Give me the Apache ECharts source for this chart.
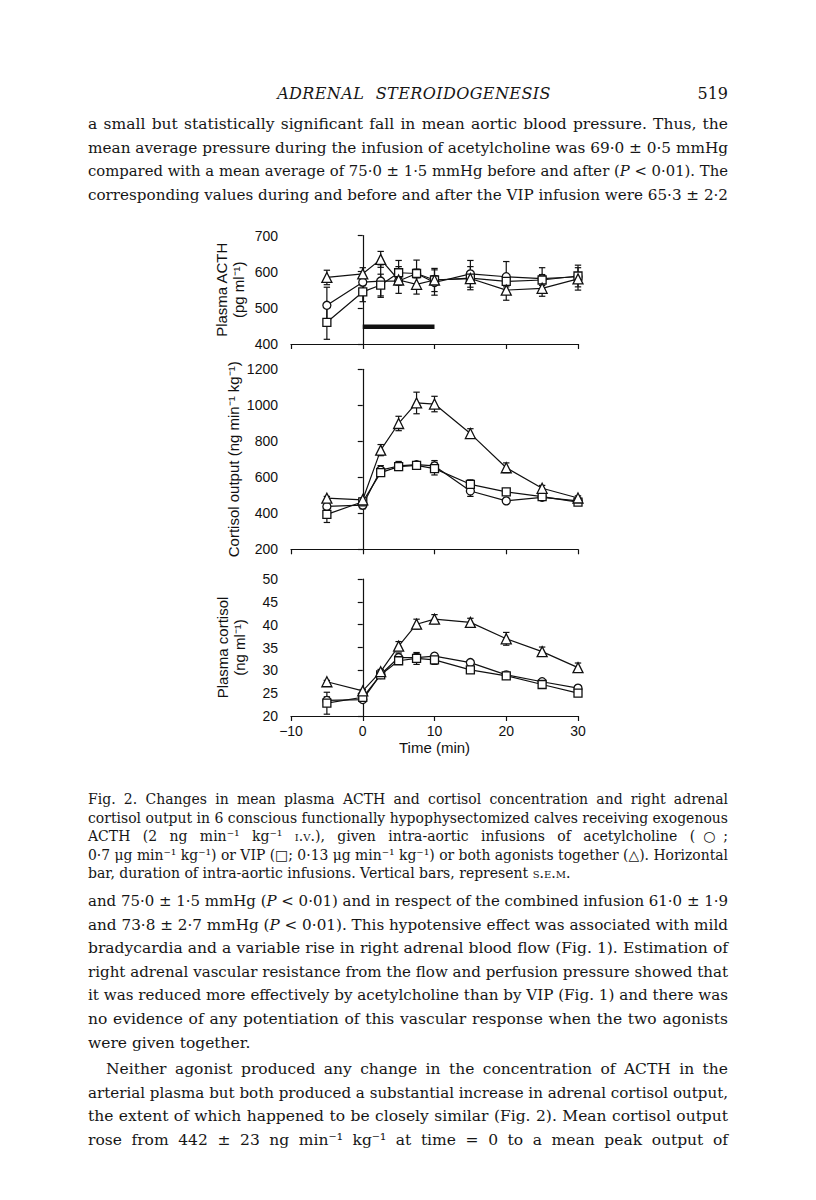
<!DOCTYPE html>
<html><head><meta charset="utf-8">
<script src="https://cdn.jsdelivr.net/npm/echarts@6.0.0/dist/echarts.min.js"></script>
<style>
html,body{margin:0;padding:0;background:#fff;}
#page{position:relative;width:816px;height:1200px;overflow:hidden;background:#fff;}
#chart{position:absolute;left:0;top:0;width:816px;height:1200px;}
.txt{position:absolute;font-family:"DejaVu Serif","Liberation Serif",serif;color:#161616;}
.blk{left:88px;width:640px;}
.ln{white-space:nowrap;text-align:justify;text-align-last:justify;}
.ln.last{text-align:left;text-align-last:left;}
.sc{font-variant:small-caps;}
.body{font-size:15.5px;line-height:23.6px;}
.cap{font-size:14px;line-height:18.5px;}
</style></head>
<body>
<div id="page">
<div id="chart"></div>
<div class="txt" style="left:88px;width:640px;top:84px;font-size:16px;">
  <div style="position:absolute;left:0;width:652px;text-align:center;font-style:italic;letter-spacing:0.4px;word-spacing:6px;">ADRENAL STEROIDOGENESIS</div>
  <div style="position:absolute;right:0;">519</div>
</div>
<div class="txt blk body" style="top:113px;">
  <div class="ln">a small but statistically significant fall in mean aortic blood pressure. Thus, the</div>
  <div class="ln">mean average pressure during the infusion of acetylcholine was 69·0 ± 0·5 mmHg</div>
  <div class="ln">compared with a mean average of 75·0 ± 1·5 mmHg before and after (<i>P</i> &lt; 0·01). The</div>
  <div class="ln">corresponding values during and before and after the VIP infusion were 65·3 ± 2·2</div>
</div>
<div class="txt blk cap" style="top:790px;">
  <div class="ln">Fig. 2. Changes in mean plasma ACTH and cortisol concentration and right adrenal</div>
  <div class="ln">cortisol output in 6 conscious functionally hypophysectomized calves receiving exogenous</div>
  <div class="ln">ACTH (2 ng min⁻¹ kg⁻¹ <span class="sc">i.v.</span>), given intra-aortic infusions of acetylcholine (○;</div>
  <div class="ln">0·7 μg min⁻¹ kg⁻¹) or VIP (□; 0·13 μg min⁻¹ kg⁻¹) or both agonists together (△). Horizontal</div>
  <div class="ln last">bar, duration of intra-aortic infusions. Vertical bars, represent <span class="sc">s.e.m.</span></div>
</div>
<div class="txt blk body" style="top:890px;">
  <div class="ln">and 75·0 ± 1·5 mmHg (<i>P</i> &lt; 0·01) and in respect of the combined infusion 61·0 ± 1·9</div>
  <div class="ln">and 73·8 ± 2·7 mmHg (<i>P</i> &lt; 0·01). This hypotensive effect was associated with mild</div>
  <div class="ln">bradycardia and a variable rise in right adrenal blood flow (Fig. 1). Estimation of</div>
  <div class="ln">right adrenal vascular resistance from the flow and perfusion pressure showed that</div>
  <div class="ln">it was reduced more effectively by acetylcholine than by VIP (Fig. 1) and there was</div>
  <div class="ln">no evidence of any potentiation of this vascular response when the two agonists</div>
  <div class="ln last">were given together.</div>
</div>
<div class="txt blk body" style="top:1058px;">
  <div class="ln" style="padding-left:18px;">Neither agonist produced any change in the concentration of ACTH in the</div>
  <div class="ln">arterial plasma but both produced a substantial increase in adrenal cortisol output,</div>
  <div class="ln">the extent of which happened to be closely similar (Fig. 2). Mean cortisol output</div>
  <div class="ln">rose from 442 ± 23 ng min⁻¹ kg⁻¹ at time = 0 to a mean peak output of</div>
</div>
</div>
<script>
// ---- data ----
const time = [-5, 0, 2.5, 5, 7.5, 10, 15, 20, 25, 30];
const xTicks = [-10, 0, 10, 20, 30];
const infusionPeriod = [0, 10];
const infusionBarLevel = 448;

// Plasma ACTH (pg/ml)
const acthACh  = [507, 571, 574, 574, 595, 570, 594, 586, 581, 586];
const acthAChErr  = [50, 10, 45, 10, 12, 35, 37, 42, 30, 10];
const acthVIP  = [460, 544, 563, 597, 595, 577, 582, 573, 577, 588];
const acthVIPErr  = [47, 27, 30, 34, 37, 32, 32, 15, 15, 30];
const acthBoth = [584, 594, 634, 577, 565, 577, 581, 549, 554, 580];
const acthBothErr = [20, 17, 22, 37, 27, 12, 12, 28, 22, 31];

// Cortisol output (ng/min/kg)
const coACh  = [438, 445, 640, 663, 670, 663, 524, 469, 489, 469];
const coAChErr  = [8, 20, 25, 25, 15, 30, 30, 15, 10, 15];
const coVIP  = [394, 464, 626, 659, 666, 648, 561, 519, 493, 462];
const coVIPErr  = [45, 15, 20, 20, 15, 35, 25, 15, 10, 15];
const coBoth = [484, 475, 751, 899, 1013, 1007, 843, 653, 539, 485];
const coBothErr = [10, 10, 31, 40, 60, 43, 27, 27, 16, 12];

// Plasma cortisol (ng/ml)
const pcACh  = [23.4, 23.6, 29.1, 32.8, 32.8, 33.1, 31.7, 29.0, 27.5, 26.1];
const pcAChErr  = [0.8, 0.3, 0.5, 1.0, 0.8, 0.6, 0.4, 0.4, 0.4, 0.4];
const pcVIP  = [22.8, 24.1, 29.0, 32.1, 32.6, 32.3, 30.1, 28.8, 26.9, 25.0];
const pcVIPErr  = [2.4, 0.5, 0.5, 0.8, 1.3, 1.0, 0.7, 0.4, 0.4, 0.5];
const pcBoth = [27.5, 25.5, 29.7, 35.3, 40.1, 41.2, 40.5, 36.9, 34.1, 30.6];
const pcBothErr = [0.3, 0.3, 0.5, 1.0, 1.1, 1.0, 0.9, 1.4, 1.0, 1.0];

// ---- build chart ----
const INK = '#111';
const AX_FONT = '"Liberation Sans", Arial, sans-serif';

function pairs(v) { return time.map((t, i) => [t, v[i]]); }
function triples(v, e) { return time.map((t, i) => [t, v[i], e[i]]); }

function errItem(params, api) {
  const x = api.value(0), y = api.value(1), e = api.value(2);
  const hi = api.coord([x, y + e]), lo = api.coord([x, y - e]);
  const c = 3.2;
  const st = {stroke: INK, lineWidth: 1.2};
  return {type: 'group', children: [
    {type: 'line', shape: {x1: hi[0], y1: hi[1], x2: lo[0], y2: lo[1]}, style: st},
    {type: 'line', shape: {x1: hi[0] - c, y1: hi[1], x2: hi[0] + c, y2: hi[1]}, style: st},
    {type: 'line', shape: {x1: lo[0] - c, y1: lo[1], x2: lo[0] + c, y2: lo[1]}, style: st}
  ]};
}

const grids = [
  {left: 291, top: 235.5, width: 287, height: 108.5},
  {left: 291, top: 369.3, width: 287, height: 180},
  {left: 291, top: 579, width: 287, height: 137}
];

function xAxis(i, showLabels) {
  return {
    gridIndex: i, type: 'value', min: xTicks[0], max: xTicks[xTicks.length - 1], interval: 10,
    axisLine: {onZero: false, lineStyle: {color: INK, width: 1.2}},
    axisTick: {show: true, length: 5, lineStyle: {color: INK, width: 1.2}},
    splitLine: {show: false},
    axisLabel: {show: showLabels, color: INK, fontFamily: AX_FONT, fontSize: 14, margin: 8,
      formatter: v => String(v).replace('-', '\u2212')},
    name: showLabels ? 'Time (min)' : '', nameLocation: 'middle', nameGap: 24,
    nameTextStyle: {color: INK, fontFamily: AX_FONT, fontSize: 15}
  };
}
function yAxis(i, min, max, interval, name, gap) {
  return {
    gridIndex: i, type: 'value', min: min, max: max, interval: interval,
    axisLine: {show: true, lineStyle: {color: INK, width: 1.2}},
    axisTick: {show: true, length: 5, lineStyle: {color: INK, width: 1.2}},
    splitLine: {show: false},
    axisLabel: {color: INK, fontFamily: AX_FONT, fontSize: 14, margin: 13, formatter: v => String(v)},
    name: name, nameLocation: 'middle', nameRotate: 90, nameGap: gap,
    nameTextStyle: {color: INK, fontFamily: AX_FONT, fontSize: 15, lineHeight: 17}
  };
}

const symbols = {ACh: 'circle', VIP: 'rect', Both: 'triangle'};
const sizes = {ACh: 8, VIP: 8, Both: 10};

function panelSeries(i, sets) {
  const out = [];
  sets.forEach(s => {
    out.push({type: 'custom', xAxisIndex: i, yAxisIndex: i, renderItem: errItem,
      encode: {x: 0, y: 1}, data: triples(s.v, s.e), z: 2, silent: true});
  });
  sets.forEach(s => {
    out.push({type: 'line', xAxisIndex: i, yAxisIndex: i, data: pairs(s.v),
      symbol: symbols[s.k], symbolSize: sizes[s.k], showSymbol: true,
      lineStyle: {color: INK, width: 1.2},
      itemStyle: {color: '#fff', borderColor: INK, borderWidth: 1.3},
      z: 3, silent: true, emphasis: {disabled: true}});
  });
  return out;
}

const series = [].concat(
  panelSeries(0, [{k: 'ACh', v: acthACh, e: acthAChErr}, {k: 'VIP', v: acthVIP, e: acthVIPErr}, {k: 'Both', v: acthBoth, e: acthBothErr}]),
  panelSeries(1, [{k: 'ACh', v: coACh, e: coAChErr}, {k: 'VIP', v: coVIP, e: coVIPErr}, {k: 'Both', v: coBoth, e: coBothErr}]),
  panelSeries(2, [{k: 'ACh', v: pcACh, e: pcAChErr}, {k: 'VIP', v: pcVIP, e: pcVIPErr}, {k: 'Both', v: pcBoth, e: pcBothErr}]),
  [{type: 'line', xAxisIndex: 0, yAxisIndex: 0,
    data: infusionPeriod.map(t => [t, infusionBarLevel]),
    symbol: 'none', lineStyle: {color: INK, width: 4.5, cap: 'butt'}, z: 1, silent: true}]
);

const chart = echarts.init(document.getElementById('chart'), null, {renderer: 'svg'});
chart.setOption({
  animation: false,
  backgroundColor: 'transparent',
  grid: grids,
  xAxis: [xAxis(0, false), xAxis(1, false), xAxis(2, true)],
  yAxis: [
    yAxis(0, 400, 700, 100, 'Plasma ACTH\n(pg ml\u207B\u00B9)', 44),
    yAxis(1, 200, 1200, 200, 'Cortisol output (ng min\u207B\u00B9 kg\u207B\u00B9)', 49),
    yAxis(2, 20, 50, 5, 'Plasma cortisol\n(ng ml\u207B\u00B9)', 43)
  ],
  series: series
});

// fit justified text lines to the column width
document.querySelectorAll('.ln').forEach(el => {
  const s = document.createElement('span');
  s.style.whiteSpace = 'nowrap';
  s.innerHTML = el.innerHTML;
  el.innerHTML = '';
  el.appendChild(s);
  const pad = parseFloat(getComputedStyle(el).paddingLeft) || 0;
  const W = el.clientWidth - pad;
  const w = s.getBoundingClientRect().width;
  if (w > W) {
    el.style.textAlignLast = 'left';
    el.style.textAlign = 'left';
    s.style.display = 'inline-block';
    s.style.transformOrigin = '0 0';
    s.style.transform = 'scaleX(' + (W / w) + ')';
  }
});
</script>
</body></html>
